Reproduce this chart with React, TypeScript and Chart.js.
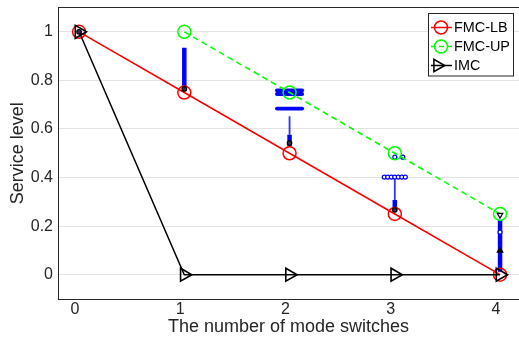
import { useEffect, useRef } from "react";
import { Chart, registerables } from "chart.js";

Chart.register(...registerables);

// Service level against the number of mode switches
const switches = [0, 1, 2, 3, 4];
const fmcLB = [1, 0.75, 0.5, 0.25, 0];
const upSwitches = [1, 2, 3, 4];
const fmcUP = [1, 0.75, 0.5, 0.25];
const imc = [1, 0, 0, 0, 0];

// Compact box plots of the simulated service level
const boxAt = [1, 2, 3, 4];
const boxLow = [0.776, 0.528, 0.26, 0.012];
const boxHigh = [0.934, 0.576, 0.308, 0.226];
const whiskerHigh = [0.934, 0.652, 0.402, 0.226];
const medianAt = [0, 1, 2, 3];
const medianVal = [1, 0.765, 0.542, 0.267];
// dense outlier bands around 2 switches (start x, end x, level)
const bandStart = [1.88, 1.88, 1.88];
const bandEnd = [2.12, 2.12, 2.12];
const bandVal = [0.759, 0.744, 0.684];
// individual outliers
const outlierX = [2.9, 2.933, 2.967, 3.0, 3.033, 3.067, 3.1, 3.0, 3.076, 4.0];
const outlierY = [0.402, 0.402, 0.402, 0.402, 0.402, 0.402, 0.402, 0.484, 0.484, 0.175];
const upperMarkX = [4];
const upperMarkY = [0.246];
const lowerMarkX = [4];
const lowerMarkY = [0.099];

const xTicks = [0, 1, 2, 3, 4];
const yTicks = [0, 0.2, 0.4, 0.6, 0.8, 1];
const legendLabels = ["FMC-LB", "FMC-UP", "IMC"];

const FONT = "'Liberation Sans', Arial, Helvetica, sans-serif";
const INK = "#262626";
const BLUE = "#0000ff";

function drawTriangle(ctx: CanvasRenderingContext2D, x: number, y: number, r: number, angleDeg: number) {
  // circumradius r, tip pointing at angleDeg (0 = up)
  let a = (angleDeg * Math.PI) / 180;
  ctx.beginPath();
  for (let i = 0; i < 3; i++) {
    const px = x + Math.sin(a) * r;
    const py = y - Math.cos(a) * r;
    if (i === 0) ctx.moveTo(px, py);
    else ctx.lineTo(px, py);
    a += (2 * Math.PI) / 3;
  }
  ctx.closePath();
}

const framePlugin = {
  id: "frameAndLegend",
  afterDraw(chart: any) {
    const { ctx, chartArea } = chart;
    ctx.save();
    // top edge of the axes box
    ctx.strokeStyle = INK;
    ctx.lineWidth = 1;
    ctx.beginPath();
    ctx.moveTo(chartArea.left, chartArea.top);
    ctx.lineTo(chartArea.right, chartArea.top);
    ctx.stroke();

    // legend box
    const bx = 428.5, by = 13.5, bw = 85, bh = 62.5;
    ctx.fillStyle = "#ffffff";
    ctx.fillRect(bx, by, bw, bh);
    ctx.strokeStyle = INK;
    ctx.lineWidth = 1;
    ctx.strokeRect(bx, by, bw, bh);

    const colors = ["#ff0000", "#00ff00", "#000000"];
    const rows = [27.5, 46.5, 65.5];
    ctx.font = `14.4px ${FONT}`;
    ctx.textBaseline = "middle";
    ctx.textAlign = "left";
    legendLabels.forEach((label, i) => {
      const y = rows[i];
      ctx.strokeStyle = colors[i];
      ctx.lineWidth = 1.5;
      ctx.setLineDash(i === 1 ? [5, 3] : []);
      ctx.beginPath();
      ctx.moveTo(431, y);
      ctx.lineTo(452, y);
      ctx.stroke();
      ctx.setLineDash([]);
      if (i < 2) {
        ctx.beginPath();
        ctx.arc(441, y, 6.5, 0, Math.PI * 2);
        ctx.stroke();
      } else {
        drawTriangle(ctx, 437.5, y, 7.2, 90);
        ctx.stroke();
      }
      ctx.fillStyle = "#000000";
      ctx.fillText(label, 454, y + 0.5);
    });
    ctx.restore();
  },
};

function segments(xs: number[], lo: number[], hi: number[]) {
  return xs.map((x, i) => [
    { x, y: lo[i] },
    { x, y: hi[i] },
  ]);
}

export default function App() {
  const ref = useRef<HTMLCanvasElement | null>(null);

  useEffect(() => {
    if (!ref.current) return;

    const boxSets = segments(boxAt, boxLow, boxHigh).map((data) => ({
      type: "line" as const,
      data,
      borderColor: BLUE,
      borderWidth: 4.5,
      borderCapStyle: "butt" as const,
      pointRadius: 0,
      order: 6,
    }));
    const whiskerSets = segments(boxAt, boxHigh, whiskerHigh).map((data) => ({
      type: "line" as const,
      data,
      borderColor: "#3030ff",
      borderWidth: 1.8,
      pointRadius: 0,
      order: 7,
    }));
    const bandSets = bandVal.map((v, i) => ({
      type: "line" as const,
      data: [
        { x: bandStart[i], y: v },
        { x: bandEnd[i], y: v },
      ],
      borderColor: BLUE,
      borderWidth: 3.8,
      borderCapStyle: "round" as const,
      pointRadius: 0,
      order: 5,
    }));

    const chart = new Chart(ref.current, {
      type: "line",
      data: {
        datasets: [
          {
            data: switches.map((x, i) => ({ x, y: imc[i] })),
            borderColor: "#000000",
            borderWidth: 1.5,
            pointStyle: "triangle",
            rotation: 90,
            pointRadius: 7.5,
            pointBorderWidth: 1.6,
            pointBackgroundColor: "rgba(0,0,0,0)",
            pointBorderColor: "#000000",
            order: 1,
          },
          {
            data: switches.map((x, i) => ({ x, y: fmcLB[i] })),
            borderColor: "#ff0000",
            borderWidth: 1.5,
            pointStyle: "circle",
            pointRadius: 6.5,
            pointBorderWidth: 1.5,
            pointBackgroundColor: "rgba(0,0,0,0)",
            pointBorderColor: "#ff0000",
            order: 2,
          },
          {
            data: upSwitches.map((x, i) => ({ x, y: fmcUP[i] })),
            borderColor: "#00ff00",
            borderWidth: 1.5,
            borderDash: [6, 4],
            pointStyle: "circle",
            pointRadius: 6.5,
            pointBorderWidth: 1.5,
            pointBackgroundColor: "rgba(0,0,0,0)",
            pointBorderColor: "#00ff00",
            order: 3,
          },
          ...boxSets,
          ...whiskerSets,
          ...bandSets,
          {
            data: outlierX.map((x, i) => ({ x, y: outlierY[i] })),
            showLine: false,
            pointStyle: "circle",
            pointRadius: 2,
            pointBorderWidth: 1.2,
            pointBackgroundColor: "#ffffff",
            pointBorderColor: BLUE,
            order: 4,
          },
          {
            data: medianAt.map((x, i) => ({ x, y: medianVal[i] })),
            showLine: false,
            pointStyle: "circle",
            pointRadius: 2.3,
            pointBorderWidth: 1.2,
            pointBackgroundColor: "#303050",
            pointBorderColor: "#000000",
            order: 0,
          },
          {
            data: upperMarkX.map((x, i) => ({ x, y: upperMarkY[i] })),
            showLine: false,
            pointStyle: "triangle",
            rotation: 180,
            pointRadius: 3.2,
            pointBorderWidth: 1.2,
            pointBackgroundColor: "#ffffff",
            pointBorderColor: "#000000",
            order: 0,
          },
          {
            data: lowerMarkX.map((x, i) => ({ x, y: lowerMarkY[i] })),
            showLine: false,
            pointStyle: "triangle",
            pointRadius: 3.2,
            pointBorderWidth: 1.2,
            pointBackgroundColor: "#000000",
            pointBorderColor: "#000000",
            order: 0,
          },
        ] as any,
      },
      options: {
        animation: false,
        responsive: true,
        maintainAspectRatio: false,
        parsing: false as any,
        layout: { autoPadding: false, padding: { top: 7.5, right: 0, bottom: 0, left: 0 } },
        plugins: {
          legend: { display: false },
          tooltip: { enabled: false },
        },
        elements: { line: { tension: 0 } },
        scales: {
          x: {
            type: "linear",
            min: -0.2,
            max: 4.18,
            afterBuildTicks: (s: any) => {
              s.ticks = xTicks.map((value) => ({ value }));
            },
            afterFit: (s: any) => {
              s.height = 39;
              s.paddingLeft = 0;
              s.paddingRight = 0;
            },
            grid: { display: false, drawTicks: false },
            border: { display: true, color: INK, width: 1 },
            ticks: {
              color: INK,
              font: { family: FONT, size: 16 },
              padding: 1,
              labelOffset: -4,
              maxRotation: 0,
              callback: (v: any) => String(v),
            },
            title: {
              display: true,
              text: "The number of mode switches",
              color: INK,
              font: { family: FONT, size: 18 },
              padding: { top: 0, bottom: 0.5 },
            },
          },
          y: {
            type: "linear",
            min: -0.1,
            max: 1.1,
            afterBuildTicks: (s: any) => {
              s.ticks = yTicks.map((value) => ({ value }));
            },
            afterFit: (s: any) => {
              s.width = 58;
              s.paddingTop = 0;
              s.paddingBottom = 0;
            },
            grid: { display: true, color: "#e3e3e3", lineWidth: 1, drawTicks: false },
            border: { display: true, color: INK, width: 1 },
            ticks: {
              color: INK,
              font: { family: FONT, size: 16 },
              padding: 5,
              callback: (v: any) => String(+Number(v).toFixed(1)),
            },
            title: {
              display: true,
              text: "Service level",
              color: INK,
              font: { family: FONT, size: 18 },
              padding: { top: 7.5, bottom: 0 },
            },
          },
        },
      },
      plugins: [framePlugin],
    });

    return () => chart.destroy();
  }, []);

  return (
    <div style={{ position: "fixed", left: 0, top: 0, width: 519, height: 338, background: "#ffffff" }}>
      <canvas ref={ref} />
    </div>
  );
}
